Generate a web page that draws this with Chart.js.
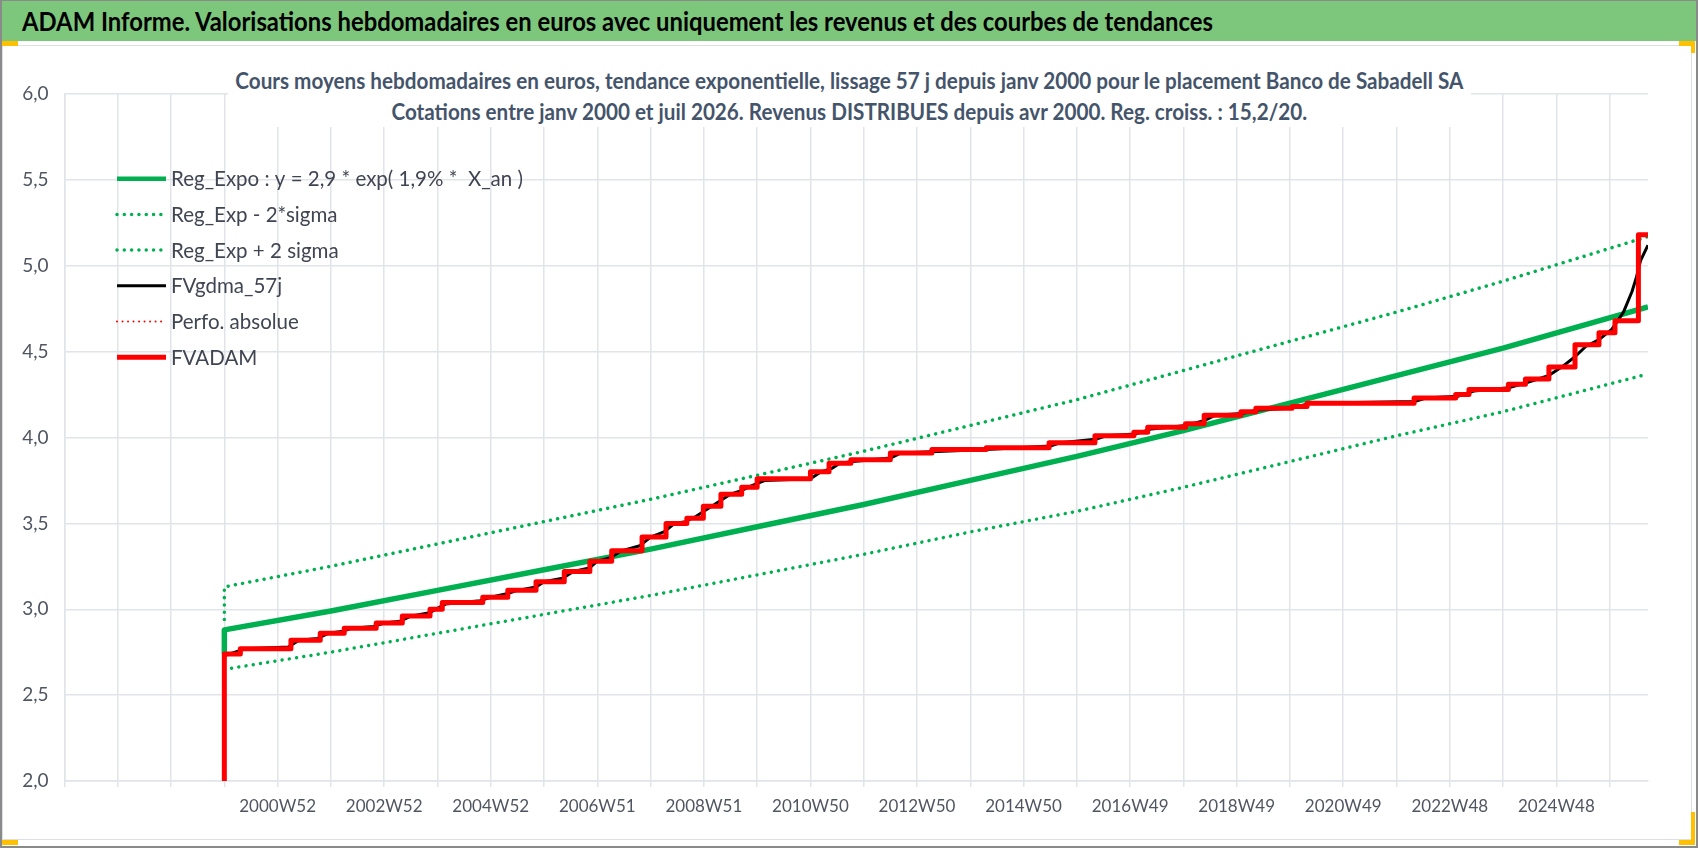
<!DOCTYPE html>
<html>
<head>
<meta charset="utf-8">
<script src="https://cdn.jsdelivr.net/npm/chart.js@4.4.1/dist/chart.umd.min.js"></script>
<style>
  html, body { margin: 0; padding: 0; background: #fff; }
  body { width: 1698px; height: 848px; position: relative; overflow: hidden; font-family: Lato, "Liberation Sans", sans-serif; }
  #page { position: absolute; left: 0; top: 0; width: 1698px; height: 848px;
          box-sizing: border-box; border: 2px solid #8a8a8a; border-top-width: 1px; }
  #banner { position: absolute; left: 2px; top: 1px; width: 1694px; height: 40px; background: #7dc77d; overflow: hidden; }
  #banner span { position: absolute; left: 20px; top: 0; line-height: 40px; color: #000; font-weight: bold;
                 font-size: 26px; white-space: nowrap; transform-origin: 0 50%; }
  #frame { position: absolute; left: 2px; top: 45px; width: 1690px; height: 795px;
           box-sizing: border-box; border: 1px solid #dcdfe4; }
  #chart { position: absolute; left: 0; top: 0; }
  #title { position: absolute; left: 0; top: 65px; width: 1698px; text-align: center; }
  #title span { display: inline-block; background: #fff; padding: 0 8px; font-weight: bold; font-size: 22px;
                line-height: 31px; color: #44546a; white-space: nowrap; transform-origin: 50% 50%; }
  .mark { position: absolute; background: #ffc000; }
</style>
</head>
<body>
<div id="page"></div>
<div id="banner"><span id="bannerText">ADAM Informe. Valorisations hebdomadaires en euros avec uniquement les revenus et des courbes de tendances</span></div>
<div id="frame"></div>
<div class="mark" style="left:2px;top:41px;width:16px;height:5px"></div>
<div class="mark" style="left:1679px;top:41px;width:16px;height:5px"></div>
<div class="mark" style="left:1691px;top:41px;width:4px;height:12px"></div>
<div class="mark" style="left:1691px;top:812px;width:4px;height:33px"></div>
<div class="mark" style="left:1679px;top:840px;width:16px;height:5px"></div>
<div class="mark" style="left:2px;top:840px;width:16px;height:5px"></div>
<canvas id="chart" width="1698" height="848"></canvas>
<div id="title"><span id="titleText">Cours moyens hebdomadaires en euros, tendance exponentielle, lissage 57 j depuis janv 2000 pour le placement Banco de Sabadell SA<br>Cotations entre janv 2000 et juil 2026. Revenus DISTRIBUES depuis avr 2000. Reg. croiss. : 15,2/20.</span></div>
<script>
// x axis ticks (decimal years) and their week labels
const tickYears = [2001, 2003, 2005, 2007, 2009, 2011, 2013, 2015, 2017, 2019, 2021, 2023, 2025];
const tickLabels = ["2000W52", "2002W52", "2004W52", "2006W51", "2008W51", "2010W50", "2012W50",
                    "2014W50", "2016W49", "2018W49", "2020W49", "2022W48", "2024W48"];

// trend curves
const trendYears = [2000, 2000, 2002, 2004, 2006, 2008, 2010, 2012, 2014, 2016, 2018, 2020, 2022, 2024, 2026.72];
const regExpo = [2.74, 2.88, 2.99, 3.11, 3.23, 3.35, 3.48, 3.61, 3.75, 3.89, 4.04, 4.20, 4.36, 4.52, 4.76];
const regLow  = [2.65, 2.65, 2.75, 2.86, 2.97, 3.08, 3.20, 3.32, 3.45, 3.57, 3.71, 3.86, 4.01, 4.15, 4.37];
const regHigh = [2.94, 3.13, 3.25, 3.38, 3.51, 3.64, 3.78, 3.92, 4.07, 4.22, 4.39, 4.56, 4.73, 4.91, 5.17];

// FVADAM steps (value from that date on)
const adamYears = [2000.00, 2000.00, 2000.30, 2001.25, 2001.80, 2002.25, 2002.85, 2003.34, 2003.86, 2004.09,
                   2004.85, 2005.32, 2005.85, 2006.38, 2006.86, 2007.27, 2007.84, 2008.29, 2008.68, 2008.99,
                   2009.32, 2009.71, 2010.00, 2011.00, 2011.35, 2011.76, 2012.50, 2013.28, 2014.30, 2015.48,
                   2016.34, 2017.07, 2017.33, 2018.04, 2018.39, 2019.08, 2019.36, 2020.04, 2020.32, 2022.33,
                   2023.11, 2023.36, 2024.10, 2024.42, 2024.86, 2025.35, 2025.80, 2026.10, 2026.54, 2026.72];
const adamValues = [2.00, 2.74, 2.77, 2.82, 2.86, 2.89, 2.92, 2.96, 3.00, 3.04,
                    3.07, 3.11, 3.16, 3.22, 3.28, 3.34, 3.42, 3.50, 3.53, 3.60,
                    3.67, 3.71, 3.76, 3.80, 3.85, 3.87, 3.91, 3.93, 3.94, 3.97,
                    4.01, 4.03, 4.06, 4.08, 4.13, 4.15, 4.17, 4.18, 4.20, 4.23,
                    4.25, 4.28, 4.31, 4.34, 4.41, 4.54, 4.61, 4.68, 5.18, 5.18];

// FVgdma_57j smoothed curve
const gdmaYears = [2000.00, 2000.40, 2001.20, 2001.40, 2001.75, 2001.95, 2002.20, 2002.40, 2002.80, 2003.00,
                   2003.30, 2003.50, 2003.85, 2004.15, 2004.80, 2005.00, 2005.30, 2005.50, 2005.85, 2006.00,
                   2006.35, 2006.55, 2006.85, 2007.00, 2007.25, 2007.45, 2007.80, 2008.00, 2008.25, 2008.45,
                   2008.65, 2008.85, 2009.00, 2009.20, 2009.35, 2009.50, 2009.70, 2009.90, 2010.15, 2011.00,
                   2011.20, 2011.40, 2011.55, 2011.80, 2012.50, 2012.70, 2014.30, 2015.50, 2015.70, 2016.35,
                   2016.55, 2017.10, 2017.40, 2018.05, 2018.40, 2018.60, 2019.10, 2019.40, 2020.00, 2020.40,
                   2022.35, 2022.55, 2023.15, 2023.45, 2024.10, 2024.45, 2024.85, 2025.10, 2025.35, 2025.55,
                   2025.80, 2026.04, 2026.26, 2026.42, 2026.50, 2026.58, 2026.72];
const gdmaValues = [2.73, 2.77, 2.78, 2.82, 2.83, 2.86, 2.87, 2.89, 2.90, 2.92,
                    2.93, 2.96, 2.98, 3.03, 3.05, 3.07, 3.09, 3.11, 3.13, 3.16,
                    3.18, 3.22, 3.24, 3.28, 3.30, 3.34, 3.37, 3.42, 3.45, 3.50,
                    3.51, 3.54, 3.57, 3.61, 3.64, 3.67, 3.69, 3.72, 3.75, 3.76,
                    3.80, 3.82, 3.85, 3.86, 3.88, 3.91, 3.93, 3.95, 3.97, 3.99,
                    4.01, 4.02, 4.05, 4.07, 4.10, 4.13, 4.14, 4.16, 4.17, 4.20,
                    4.21, 4.23, 4.24, 4.27, 4.29, 4.32, 4.36, 4.41, 4.47, 4.53,
                    4.57, 4.63, 4.73, 4.85, 4.93, 5.03, 5.12];

const perfoYears = [];
const perfoValues = [];

const pts = (xs, ys) => xs.map((x, i) => ({ x, y: ys[i] }));

const GREEN = "#00b050";
const FONT = 'Lato, "Liberation Sans", sans-serif';
const dots = [0.01, 7.3];

// squeeze the html titles to the width they take in the Excel export
function fitWidth(id, target) {
    const el = document.getElementById(id);
    const w = el.getBoundingClientRect().width;
    if (w > 0) el.style.transform = "scaleX(" + (target / w).toFixed(4) + ")";
}
fitWidth("bannerText", 1191);
fitWidth("titleText", 1243);

// legend drawn inside the plot, top-left, like the Excel one
const insideLegend = {
    id: "insideLegend",
    afterDatasetsDraw(chart, args, opts) {
        const { ctx, chartArea } = chart;
        ctx.save();
        ctx.font = opts.font;
        ctx.textBaseline = "middle";
        chart.data.datasets.forEach((ds, i) => {
            const x = chartArea.left + opts.left;
            const y = chartArea.top + opts.top + i * opts.rowGap;
            ctx.beginPath();
            ctx.setLineDash(ds.borderDash || []);
            ctx.lineCap = ds.borderCapStyle || "butt";
            ctx.lineWidth = ds.legendWidth || ds.borderWidth;
            ctx.strokeStyle = ds.borderColor;
            ctx.moveTo(x, y);
            ctx.lineTo(x + opts.lineLength, y);
            ctx.stroke();
            ctx.setLineDash([]);
            ctx.fillStyle = opts.color;
            ctx.fillText(ds.label, x + opts.lineLength + opts.gap, y + 1);
        });
        ctx.restore();
    },
};

new Chart(document.getElementById("chart"), {
    type: "line",
    data: {
        datasets: [
            { label: "Reg_Expo : y = 2,9 * exp( 1,9% *  X_an )", data: pts(trendYears, regExpo),
              borderColor: GREEN, borderWidth: 5.5, legendWidth: 4.5, order: 5 },
            { label: "Reg_Exp - 2*sigma", data: pts(trendYears, regLow),
              borderColor: GREEN, borderWidth: 3.5, borderDash: dots, borderCapStyle: "round", order: 4 },
            { label: "Reg_Exp + 2 sigma", data: pts(trendYears, regHigh),
              borderColor: GREEN, borderWidth: 3.5, borderDash: dots, borderCapStyle: "round", order: 3 },
            { label: "FVgdma_57j", data: pts(gdmaYears, gdmaValues),
              borderColor: "#000000", borderWidth: 3, order: 1 },
            { label: "Perfo. absolue", data: pts(perfoYears, perfoValues),
              borderColor: "#ff0000", borderWidth: 2, borderDash: [0.01, 5.5], borderCapStyle: "round", order: 2 },
            { label: "FVADAM", data: pts(adamYears, adamValues),
              borderColor: "#ff0000", borderWidth: 5, stepped: "before", order: 0 },
        ],
    },
    options: {
        responsive: false,
        animation: false,
        events: [],
        layout: { padding: { top: 94, right: 50, bottom: 0, left: 0 } },
        elements: { point: { radius: 0 }, line: { tension: 0, fill: false, borderJoinStyle: "round" } },
        plugins: {
            legend: { display: false },
            title: { display: false },
            tooltip: { enabled: false },
            insideLegend: {
                font: "20.5px " + FONT,
                color: "#404552", left: 52.5, top: 84.7, rowGap: 35.7, lineLength: 49, gap: 5,
            },
        },
        scales: {
            x: {
                type: "linear",
                min: 1997,
                max: 2026.72,
                afterBuildTicks: (scale) => {
                    const t = [];
                    for (let y = 1997; y <= 2026; y++) t.push({ value: y });
                    scale.ticks = t;
                },
                afterFit: (scale) => { scale.height = 67; },
                grid: { color: "#e1e4e9", lineWidth: 1.5, tickLength: 6, tickColor: "#e1e4e9" },
                border: { color: "#e1e4e9", width: 1.5 },
                ticks: {
                    autoSkip: false,
                    maxRotation: 0,
                    padding: 9,
                    color: "#505661",
                    font: { family: FONT, size: 17 },
                    callback: (v) => {
                        const i = tickYears.indexOf(v);
                        return i >= 0 ? tickLabels[i] : "";
                    },
                },
            },
            y: {
                min: 2,
                max: 6,
                afterFit: (scale) => { scale.width = 64.5; },
                grid: { color: "#e1e4e9", lineWidth: 1.5, drawTicks: false },
                border: { color: "#e1e4e9", width: 1.5 },
                ticks: {
                    stepSize: 0.5,
                    padding: 16,
                    color: "#505661",
                    font: { family: FONT, size: 19 },
                    callback: (v) => v.toFixed(1).replace(".", ","),
                },
            },
        },
    },
    plugins: [insideLegend],
});
</script>
</body>
</html>
